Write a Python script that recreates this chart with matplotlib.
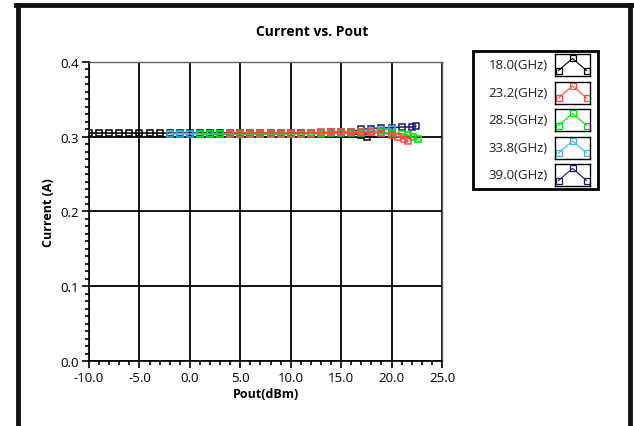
import numpy as np
import matplotlib
matplotlib.use("Agg")
from matplotlib import pyplot as plt
from matplotlib.lines import Line2D
from matplotlib.ticker import MultipleLocator, FormatStrFormatter

plt.rcParams['font.family'] = ['Open Sans', 'DejaVu Sans']

# data
labels = ["18.0(GHz)", "23.2(GHz)", "28.5(GHz)", "33.8(GHz)", "39.0(GHz)"]
colors = ["#000000", "#ff4a4a", "#00e000", "#3cb4ee", "#1c1c6c"]

pout_18 = [-10, -9, -8, -7, -6, -5, -4, -3, -2, -1, 0, 1, 2, 3, 4, 5, 6, 7, 8, 9,
           10, 11, 12, 13, 14, 15, 16, 17, 17.6]
cur_18 = [0.305, 0.305, 0.305, 0.305, 0.305, 0.305, 0.305, 0.305, 0.305, 0.305,
          0.305, 0.305, 0.305, 0.305, 0.305, 0.305, 0.305, 0.305, 0.305, 0.305,
          0.305, 0.305, 0.305, 0.305, 0.306, 0.306, 0.305, 0.302, 0.300]

pout_23 = [4, 5, 6, 7, 8, 9, 10, 11, 12, 13, 14, 15, 16, 17, 18, 19, 20, 20.6, 21.2, 21.6]
cur_23 = [0.305, 0.305, 0.305, 0.305, 0.305, 0.305, 0.305, 0.305, 0.305, 0.306,
          0.306, 0.306, 0.306, 0.306, 0.306, 0.305, 0.303, 0.300, 0.297, 0.294]

pout_28 = [1, 2, 3, 4, 5, 6, 7, 8, 9, 10, 11, 12, 13, 14, 15, 16, 17, 18, 19, 20,
           21, 21.6, 22.1, 22.6]
cur_28 = [0.304, 0.304, 0.304, 0.304, 0.304, 0.304, 0.304, 0.304, 0.304, 0.304,
          0.304, 0.304, 0.304, 0.305, 0.305, 0.305, 0.305, 0.306, 0.306, 0.305,
          0.304, 0.302, 0.299, 0.297]

pout_33 = [-2, -1, 0, 1, 2, 3, 4, 5, 6, 7, 8, 9, 10, 11, 12, 13, 14, 15, 16, 17,
           18, 19, 20]
cur_33 = [0.304, 0.304, 0.304, 0.304, 0.304, 0.304, 0.304, 0.304, 0.304, 0.304,
          0.304, 0.304, 0.304, 0.304, 0.305, 0.305, 0.306, 0.306, 0.307, 0.307,
          0.308, 0.309, 0.310]

pout_39 = [2, 3, 4, 5, 6, 7, 8, 9, 10, 11, 12, 13, 14, 15, 16, 17, 18, 19, 20,
           21, 22, 22.4]
cur_39 = [0.304, 0.304, 0.304, 0.304, 0.304, 0.304, 0.304, 0.304, 0.305, 0.305,
          0.305, 0.305, 0.305, 0.305, 0.307, 0.310, 0.311, 0.312, 0.312, 0.313,
          0.313, 0.314]

series = [(pout_18, cur_18), (pout_23, cur_23), (pout_28, cur_28),
          (pout_33, cur_33), (pout_39, cur_39)]
draw_order = [4, 0, 3, 2, 1]

W, H = 634, 427
fig = plt.figure(figsize=(W / 100, H / 100), dpi=100)
fig.patch.set_facecolor("white")

# outer frame (bottom is cut off in the original)
fw = 3.5
fig.add_artist(Line2D([17.5 / W, 17.5 / W], [0, 1 - 6 / H], color="#111111", lw=fw))
fig.add_artist(Line2D([630 / W, 630 / W], [0, 1 - 6 / H], color="#111111", lw=fw))
fig.add_artist(Line2D([16 / W, 631.5 / W], [1 - 6 / H, 1 - 6 / H], color="#111111", lw=fw))

ax = fig.add_axes([89 / W, 1 - 362 / H, (442 - 89) / W, (362 - 63) / H])

for k in draw_order:
    x, y = series[k]
    c = colors[k]
    ax.plot(x, y, color=c, lw=1.1, marker="s", markersize=4.6, markerfacecolor="none",
            markeredgecolor=c, markeredgewidth=1.1)

ax.set_xlim(-10, 25)
ax.set_ylim(0, 0.4)
ax.xaxis.set_major_locator(MultipleLocator(5))
ax.xaxis.set_minor_locator(MultipleLocator(1))
ax.yaxis.set_major_locator(MultipleLocator(0.1))
ax.yaxis.set_minor_locator(MultipleLocator(0.01))
ax.xaxis.set_major_formatter(FormatStrFormatter("%.1f"))
ax.yaxis.set_major_formatter(FormatStrFormatter("%.1f"))
ax.grid(True, which="major", color="black", lw=1.3)
ax.set_axisbelow(True)
ax.tick_params(which="major", length=5, width=1.2, labelsize=9.5, colors="black", pad=2)
ax.tick_params(which="minor", length=3, width=1.2, colors="black")

for side in ["top", "right"]:
    ax.spines[side].set_color("#606060")
    ax.spines[side].set_linewidth(1.0)
for side in ["left", "bottom"]:
    ax.spines[side].set_color("black")
    ax.spines[side].set_linewidth(1.2)

ax.set_xlabel("Pout(dBm)", fontsize=9, fontweight="bold", labelpad=2)
ax.set_ylabel("Current (A)", fontsize=9, fontweight="bold", labelpad=4)
fig.text(312 / W, 1 - 32 / H, "Current vs. Pout", fontsize=10, fontweight="bold",
         ha="center", va="center")

# legend box
lx0, ly0, lx1, ly1 = 473, 52, 598, 190
fig.add_artist(plt.Rectangle((lx0 / W, 1 - ly1 / H), (lx1 - lx0) / W, (ly1 - ly0) / H,
                             transform=fig.transFigure, fill=False, ec="black", lw=2))
for i, (lab, c) in enumerate(zip(labels, colors)):
    yc = 66 + i * 27.5
    fig.text(548 / W, 1 - yc / H, lab, fontsize=9.5, ha="right", va="center", color="#222222")
    ia = fig.add_axes([555 / W, 1 - (yc + 11) / H, 35 / W, 22 / H])
    ia.plot([0.2, 1, 1.8], [0.25, 0.8, 0.25], color=c, lw=0.8, marker="s", markersize=4,
            markerfacecolor="none", markeredgecolor=c, markeredgewidth=0.9)
    ia.set_xlim(0, 2)
    ia.set_ylim(0, 1)
    ia.set_xticks([])
    ia.set_yticks([])
    for s in ia.spines.values():
        s.set_color("black")
        s.set_linewidth(1.0)

fig.savefig("out.png", dpi=100)
